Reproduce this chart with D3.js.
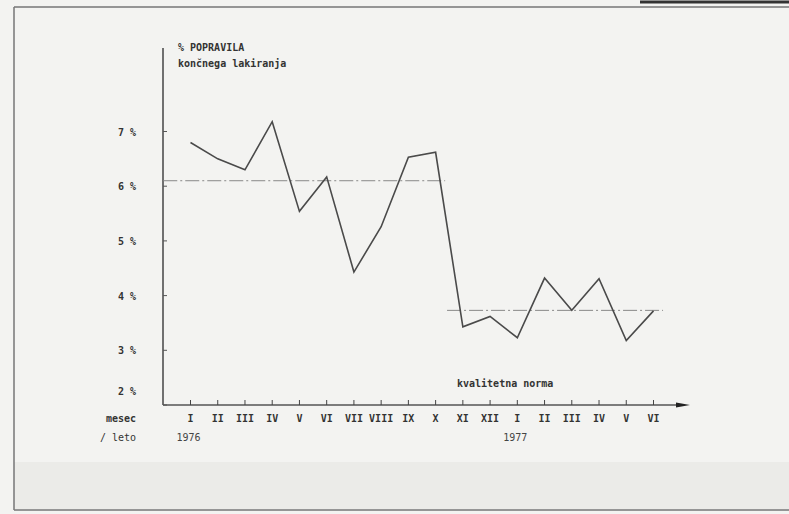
<!DOCTYPE html>
<html><head><meta charset="utf-8">
<script src="https://cdn.jsdelivr.net/npm/d3@7"></script>
<style>html,body{margin:0;padding:0;background:#f3f3f1;}svg{display:block;}</style>
</head><body>
<script>
const months = ["I","II","III","IV","V","VI","VII","VIII","IX","X","XI","XII","I","II","III","IV","V","VI"];
const values = [6.8,6.5,6.3,7.18,5.54,6.17,4.43,5.26,6.53,6.62,3.43,3.62,3.23,4.32,3.73,4.31,3.18,3.72];
const yTicks = [2,3,4,5,6,7];
const years = [{label:"1976", idx:0},{label:"1977", idx:12}];
const norms = [{value:6.1, from:-1.0, to:9.35},{value:3.73, from:9.42, to:17.35}];
const titleLines = ["% POPRAVILA","končnega lakiranja"];

const W=789,H=514;
const svg=d3.select("body").append("svg").attr("width",W).attr("height",H);
svg.append("rect").attr("width",W).attr("height",H).attr("fill","#f3f3f1");
svg.append("rect").attr("x",14).attr("y",462).attr("width",W-14).attr("height",47).attr("fill","#ebebe8");
// frame
svg.append("path").attr("d","M14,7 L789,7 M14,7 L14,510 M14,510 L789,510").attr("stroke","#777").attr("stroke-width",1.5).attr("fill","none");
svg.append("line").attr("x1",640).attr("x2",789).attr("y1",2).attr("y2",2).attr("stroke","#333").attr("stroke-width",3);

const x=d3.scaleLinear().domain([0,17]).range([190.5,653.5]);
const y=d3.scaleLinear().domain([2,7]).range([405,131.5]);
const font="'DejaVu Sans Mono', 'Liberation Mono', monospace";
const ink="#333";

// y axis
svg.append("line").attr("x1",163).attr("x2",163).attr("y1",48).attr("y2",y(2)).attr("stroke","#444").attr("stroke-width",1.5);
svg.selectAll(".ytick").data(yTicks).enter().append("line")
  .attr("x1",163).attr("x2",167).attr("y1",d=>y(d)).attr("y2",d=>y(d)).attr("stroke","#555");
svg.selectAll(".ylab").data(yTicks).enter().append("text")
  .attr("x",136).attr("y",d=>d===2?y(d)-10:y(d)+4).attr("text-anchor","end")
  .attr("font-family",font).attr("font-size",10).attr("font-weight","bold").attr("fill",ink)
  .text(d=>d+" %");

// x axis
svg.append("line").attr("x1",163).attr("x2",680).attr("y1",y(2)).attr("y2",y(2)).attr("stroke","#555").attr("stroke-width",1.3);
svg.append("path").attr("d",`M676,${y(2)-2.5} L690,${y(2)} L676,${y(2)+2.5} Z`).attr("fill","#222");
svg.selectAll(".xtick").data(months).enter().append("line")
  .attr("x1",(d,i)=>x(i)).attr("x2",(d,i)=>x(i)).attr("y1",y(2)).attr("y2",y(2)-5).attr("stroke","#444");
svg.selectAll(".xlab").data(months).enter().append("text")
  .attr("x",(d,i)=>x(i)).attr("y",422).attr("text-anchor","middle")
  .attr("font-family",font).attr("font-size",10).attr("font-weight","bold").attr("fill",ink).text(d=>d);
svg.selectAll(".year").data(years).enter().append("text")
  .attr("x",d=>x(d.idx)-2).attr("y",441).attr("text-anchor","middle")
  .attr("font-family",font).attr("font-size",10).attr("fill","#444").text(d=>d.label);
svg.append("text").attr("x",136).attr("y",422).attr("text-anchor","end").attr("font-family",font).attr("font-size",10).attr("font-weight","bold").attr("fill",ink).text("mesec");
svg.append("text").attr("x",136).attr("y",441).attr("text-anchor","end").attr("font-family",font).attr("font-size",10).attr("fill",ink).text("/ leto");

// title
svg.selectAll(".title").data(titleLines).enter().append("text")
  .attr("x",178).attr("y",(d,i)=>51+i*16).attr("font-family",font).attr("font-size",10).attr("font-weight","bold").attr("fill",ink).text(d=>d);

// norms
svg.selectAll(".norm").data(norms).enter().append("line")
  .attr("x1",d=>x(d.from)).attr("x2",d=>x(d.to)).attr("y1",d=>y(d.value)).attr("y2",d=>y(d.value))
  .attr("stroke","#888").attr("stroke-width",1).attr("stroke-dasharray","14,3,2,3");
svg.append("text").attr("x",457).attr("y",387).attr("font-family",font).attr("font-size",10).attr("font-weight","bold").attr("fill",ink).text("kvalitetna norma");

// data line
svg.append("path").datum(values)
  .attr("d",d3.line().x((d,i)=>x(i)).y(d=>y(d)))
  .attr("fill","none").attr("stroke","#4a4a4a").attr("stroke-width",1.6).attr("stroke-linejoin","miter");
</script>
</body></html>
